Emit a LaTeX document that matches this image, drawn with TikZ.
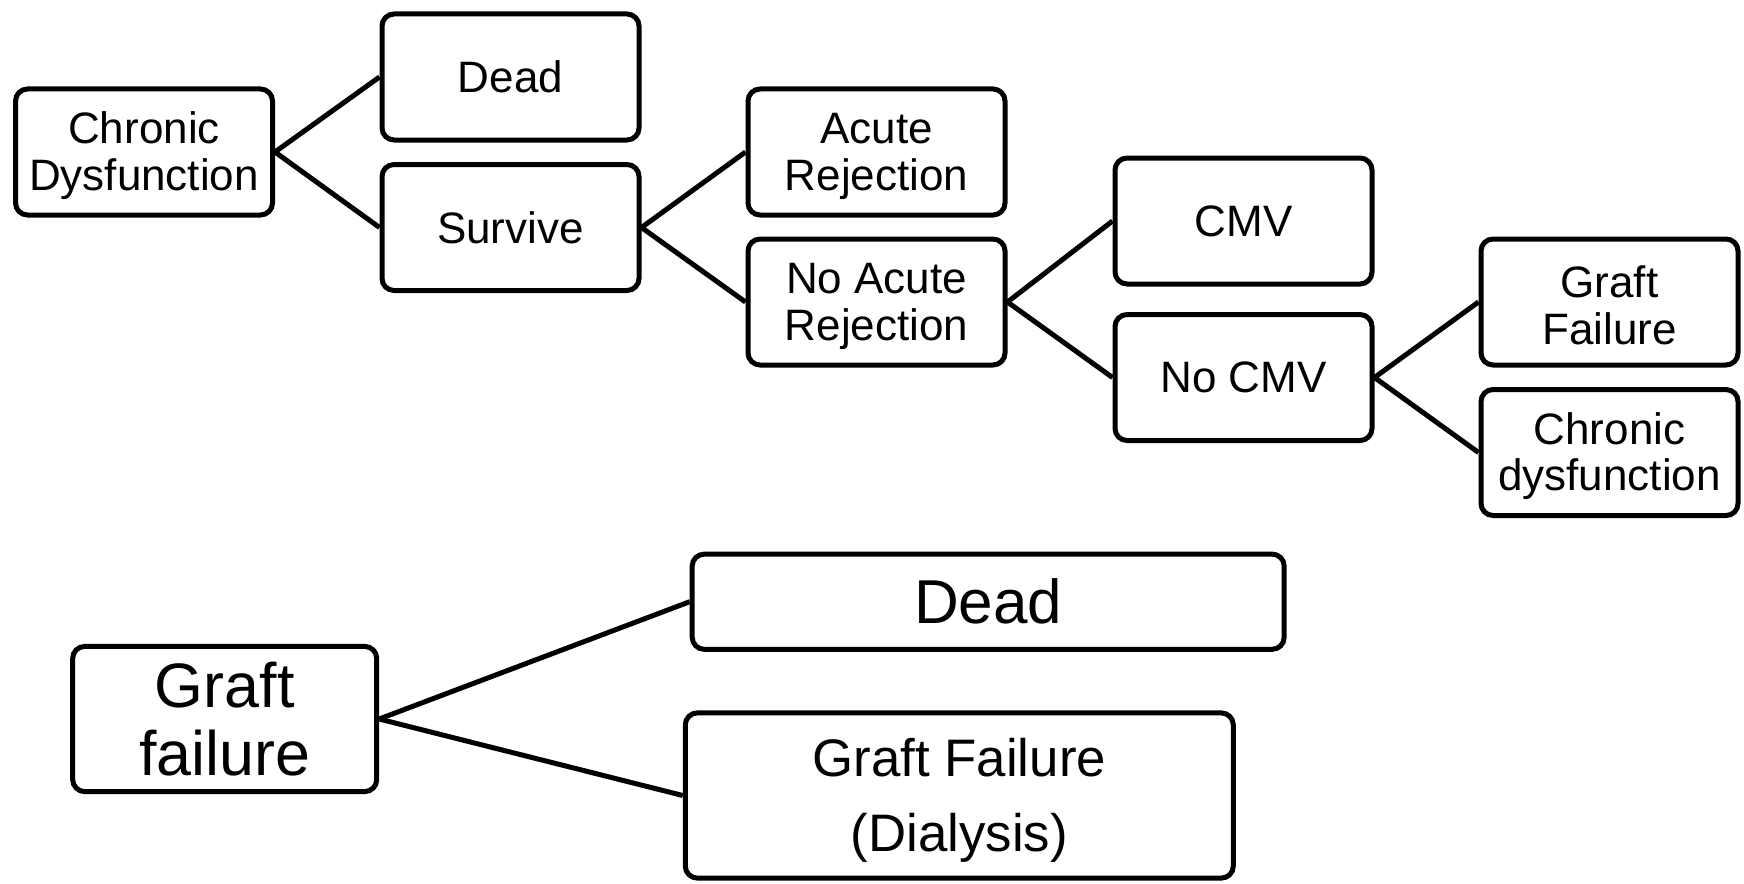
\documentclass[tikz,border=0pt]{standalone}
\usepackage{fontspec}
\setmainfont{Liberation Sans}
\newcommand{\toprule}{\rule{0pt}{19.6pt}}
\begin{document}
\begin{tikzpicture}[x=0.5pt,y=-0.5pt,
  box/.style={draw=black, line width=2.5pt, rounded corners=6pt, fill=white,
    align=center, inner sep=0pt, text=black},
  small/.style={box, minimum width=128.5pt, minimum height=63pt,
    font=\fontsize{22}{23.4}\selectfont},
  link/.style={draw=black, line width=2.5pt}]
\useasboundingbox (0,0) rectangle (1744,883);
% top tree
\node[small] (cd) at (144,152) {\toprule Chronic\\Dysfunction};
\node[small] (dead1) at (510.5,77) {Dead};
\node[small] (surv) at (510.5,227.5) {Survive};
\node[small] (ar) at (876.5,152) {\toprule Acute\\Rejection};
\node[small] (nar) at (876.5,302) {\toprule No Acute\\Rejection};
\node[small] (cmv) at (1243.5,221) {CMV};
\node[small] (ncmv) at (1243.5,377.5) {No CMV};
\node[small] (gf) at (1609.5,302) {\toprule Graft\\Failure};
\node[small] (cdys) at (1609.5,452.5) {\toprule Chronic\\dysfunction};
\draw[link] (cd.east) -- (dead1.west);
\draw[link] (cd.east) -- (surv.west);
\draw[link] (surv.east) -- (ar.west);
\draw[link] (surv.east) -- (nar.west);
\draw[link] (nar.east) -- (cmv.west);
\draw[link] (nar.east) -- (ncmv.west);
\draw[link] (ncmv.east) -- (gf.west);
\draw[link] (ncmv.east) -- (cdys.west);
% bottom tree
\node[box, minimum width=152pt, minimum height=72.6pt, font=\fontsize{31.4}{34}\selectfont] (gfb) at (224.7,719) {Graft\\failure};
\node[box, minimum width=296pt, minimum height=47.6pt, font=\fontsize{31}{34}\selectfont] (deadb) at (988.2,601.7) {Dead};
\node[box, minimum width=274pt, minimum height=82.6pt, font=\fontsize{26.4}{37.8}\selectfont] (dial) at (959.3,795.5) {\rule{0pt}{24pt}Graft Failure\\(Dialysis)};
\draw[link] (gfb.east) -- (deadb.west);
\draw[link] (gfb.east) -- (dial.west);
\end{tikzpicture}
\end{document}
